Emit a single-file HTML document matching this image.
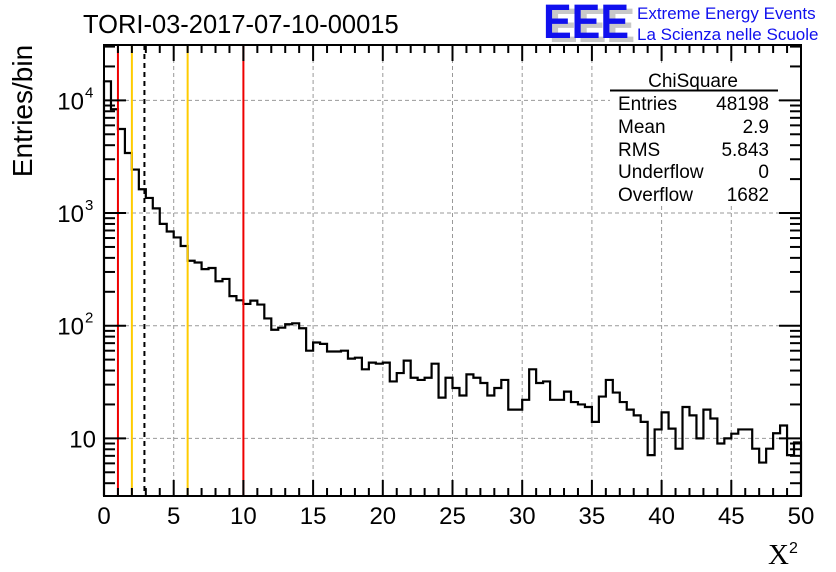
<!DOCTYPE html>
<html><head><meta charset="utf-8"><style>
html,body{margin:0;padding:0;background:#fff;}
svg{display:block;font-family:"Liberation Sans",sans-serif;}
</style></head><body>
<svg id="chart" width="836" height="572" viewBox="0 0 836 572" xmlns="http://www.w3.org/2000/svg">
<rect width="836" height="572" fill="#fff"/>
<text x="83" y="33" font-size="25.5">TORI-03-2017-07-10-00015</text>
<g>
<text x="549" y="42" font-size="48" font-weight="bold" fill="#c8c8c8" textLength="86" lengthAdjust="spacingAndGlyphs">EEE</text>
<text x="543" y="38" font-size="48" font-weight="bold" fill="#1010ee" textLength="86" lengthAdjust="spacingAndGlyphs">EEE</text>
<text x="637" y="19" font-size="17" fill="#1010ee">Extreme Energy Events</text>
<text x="637" y="40" font-size="17" fill="#1010ee">La Scienza nelle Scuole</text>
</g>
<g id="grid"></g>
<g id="marks"></g>
<g id="axes"></g>
<g>
<rect x="610" y="64" width="168" height="142" fill="#fff"/>
<text x="693" y="87" font-size="19" text-anchor="middle">ChiSquare</text>
<line x1="610" y1="90.5" x2="778" y2="90.5" stroke="#000" stroke-width="2"/>
<g font-size="19">
<text x="618" y="110">Entries</text><text x="769" y="110" text-anchor="end">48198</text>
<text x="618" y="133">Mean</text><text x="769" y="133" text-anchor="end">2.9</text>
<text x="618" y="156">RMS</text><text x="769" y="156" text-anchor="end">5.843</text>
<text x="618" y="178">Underflow</text><text x="769" y="178" text-anchor="end">0</text>
<text x="618" y="201">Overflow</text><text x="769" y="201" text-anchor="end">1682</text>
</g></g>
<text transform="translate(32,111) rotate(-90)" font-size="28" text-anchor="middle">Entries/bin</text>
<text x="768" y="564" font-size="29" font-family="Liberation Serif,serif">X</text>
<text x="789" y="553" font-size="16">2</text>
</svg>
<script>
const counts=[14760,8340,5570,3410,2430,1625,1362,1100,801,686,607,510,377,364,318,325,248,260,183,168,156,167,154,116,92,96,103,105,95,60,71,69,59,59,60,51,52,41,47,46,47,32,38,49,34.5,33,34.5,46,23,34.5,28,24,37,34.5,31,24,28,33,18,18,22,41,31,32,22,22,26,21,20,19,14,23.5,33,25.5,21,18,16,14,7.1,12,17,12.2,8.1,19,16,10,18,15,9,10,11,12,12,8.1,6.1,8.1,11.1,13,7.1,9.2];
const xTicks=[0,5,10,15,20,25,30,35,40,45,50];
const yDecades=[1,2,3,4];
const redLines=[1,10];
const yellowLines=[2,6];
const meanLine=[2.9];
const binWidth=0.5;
const X0=104,X1=801,Y0=496,Y1=45;
const ymin=Math.log10(3.08),ymax=Math.log10(31000);
function xs(v){return X0+(v/50)*(X1-X0);}
function ys(v){return Y0-(Math.log10(v)-ymin)/(ymax-ymin)*(Y0-Y1);}
const NS="http://www.w3.org/2000/svg";
function mk(tag,parent,attrs){const e=document.createElementNS(NS,tag);for(const k in attrs)e.setAttribute(k,attrs[k]);parent.appendChild(e);return e;}
const grid=document.getElementById('grid'),marks=document.getElementById('marks'),axes=document.getElementById('axes');
xTicks.forEach(t=>{if(t>0&&t<50){const l=mk('line',grid,{x1:xs(t),x2:xs(t),y1:Y1,y2:Y0,stroke:'#999','stroke-dasharray':'4,3'});

}});
yDecades.forEach(d=>{const y=ys(Math.pow(10,d));const l=mk('line',grid,{x1:X0,x2:X1,y1:y,y2:y,stroke:'#999','stroke-dasharray':'4,3'});

});
let d='M'+xs(0)+','+Y0;
counts.forEach((c,i)=>{const y=ys(c);d+=' L'+xs(i*binWidth)+','+y+' L'+xs((i+1)*binWidth)+','+y;});
d+=' L'+xs(counts.length*binWidth)+','+Y0;
const h=mk('path',marks,{d:d,fill:'none',stroke:'#000','stroke-width':2.2});


function vline(v,col,dash,name){const a={x1:xs(v),x2:xs(v),y1:Y1,y2:Y0,stroke:col,'stroke-width':2};if(dash)a['stroke-dasharray']=dash;const l=mk('line',marks,a);

}
redLines.forEach(v=>vline(v,'#ee0000',null,'red-threshold-line'));
yellowLines.forEach(v=>vline(v,'#ffcc00',null,'yellow-threshold-line'));
meanLine.forEach(v=>vline(v,'#000','5,4','mean-line'));
const f=mk('rect',axes,{x:X0,y:Y1,width:X1-X0,height:Y0-Y1,fill:'none',stroke:'#000','stroke-width':2});


for(let t=0;t<=50;t++){const big=t%5===0;const len=big?16:8;const x=xs(t);
mk('line',axes,{x1:x,x2:x,y1:Y0,y2:Y0-len,stroke:'#000','stroke-width':2});
mk('line',axes,{x1:x,x2:x,y1:Y1,y2:Y1+len,stroke:'#000','stroke-width':2});}
xTicks.forEach(t=>{const tx=mk('text',axes,{x:xs(t),y:524,'font-size':24,'text-anchor':'middle'});tx.textContent=t;

});
for(let dec=0;dec<=4;dec++){for(let m=1;m<=9;m++){const v=m*Math.pow(10,dec);const y=ys(v);if(y<Y1||y>Y0)continue;const len=m===1?22:11;
mk('line',axes,{x1:X0,x2:X0+len,y1:y,y2:y,stroke:'#000','stroke-width':2});
mk('line',axes,{x1:X1,x2:X1-len,y1:y,y2:y,stroke:'#000','stroke-width':2});}}
yDecades.forEach(dd=>{const y=ys(Math.pow(10,dd));const tx=mk('text',axes,{x:dd===1?96:84,y:y+9,'font-size':24,'text-anchor':'end'});tx.textContent='10';


if(dd>1){const s=mk('text',axes,{x:85,y:y-3,'font-size':15});s.textContent=dd;}});
</script>
</body></html>
